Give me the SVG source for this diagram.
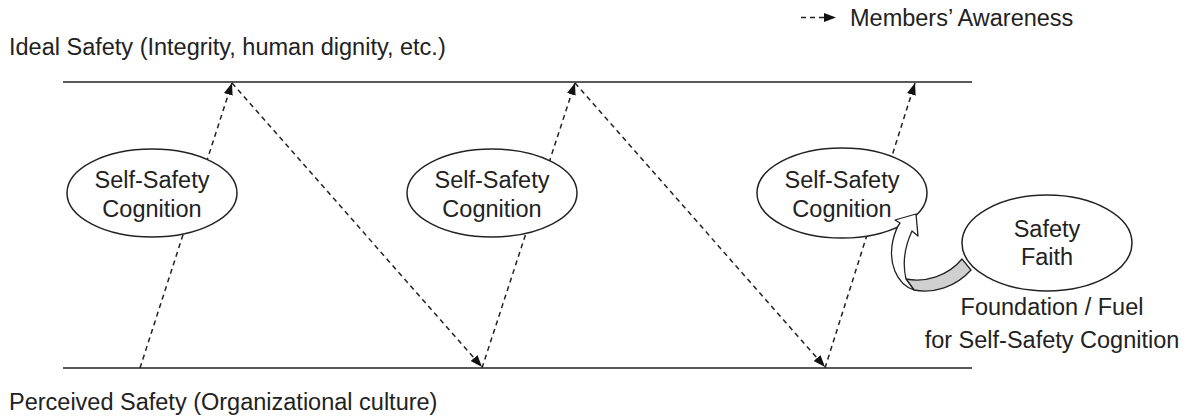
<svg xmlns="http://www.w3.org/2000/svg" width="1188" height="417" viewBox="0 0 1188 417">
  <style>
    text { font-family: "Liberation Sans", Arial, sans-serif; font-size: 23.5px; fill: #222; }
    .mid { text-anchor: middle; }
    .level { stroke: #222; stroke-width: 1.6; fill: none; }
    .aware { stroke: #222; stroke-width: 1.5; stroke-dasharray: 5 4; fill: none; marker-end: url(#head); }
    .node { fill: #fff; stroke: #222; stroke-width: 1.5; }
  </style>
  <defs>
    <marker id="head" markerUnits="userSpaceOnUse" markerWidth="13" markerHeight="10" refX="12" refY="4.5" orient="auto">
      <path d="M0,0 L12,4.5 L0,9 Z" fill="#111"/>
    </marker>
  </defs>
  <rect width="1188" height="417" fill="#fff"/>

  <!-- level lines and their labels -->
  <g id="levels">
    <line class="level" x1="63" y1="82" x2="972" y2="82"/>
    <line class="level" x1="63" y1="368" x2="972" y2="368"/>
    <text x="9" y="55">Ideal Safety (Integrity, human dignity, etc.)</text>
    <text x="9" y="410">Perceived Safety (Organizational culture)</text>
  </g>

  <!-- legend -->
  <g id="legend">
    <line class="aware" x1="801" y1="17.5" x2="836" y2="17.5"/>
    <text x="850" y="26">Members’ Awareness</text>
  </g>

  <!-- awareness zig-zag -->
  <g id="connectors">
    <line class="aware" x1="140" y1="368" x2="232" y2="83"/>
    <line class="aware" x1="232" y1="83" x2="482" y2="367"/>
    <line class="aware" x1="482" y1="368" x2="575" y2="83"/>
    <line class="aware" x1="575" y1="83" x2="825" y2="367"/>
    <line class="aware" x1="825" y1="368" x2="915" y2="83"/>
  </g>

  <g id="cognition-1">
    <ellipse class="node" cx="152" cy="193" rx="85" ry="44"/>
    <text class="mid" x="152" y="188">Self-Safety</text>
    <text class="mid" x="152" y="217">Cognition</text>
  </g>

  <g id="cognition-2">
    <ellipse class="node" cx="492" cy="193" rx="85" ry="44"/>
    <text class="mid" x="492" y="188">Self-Safety</text>
    <text class="mid" x="492" y="217">Cognition</text>
  </g>

  <g id="cognition-3">
    <ellipse class="node" cx="842" cy="193" rx="85" ry="45"/>
    <text class="mid" x="842" y="188">Self-Safety</text>
    <text class="mid" x="842" y="217">Cognition</text>
  </g>

  <g id="safety-faith">
    <ellipse class="node" cx="1047" cy="243" rx="85" ry="48"/>
    <text class="mid" x="1047" y="237">Safety</text>
    <text class="mid" x="1047" y="265">Faith</text>
    <text class="mid" x="1052" y="315">Foundation / Fuel</text>
    <text class="mid" x="1052" y="348">for Self-Safety Cognition</text>
  </g>

  <!-- curved block arrow from Safety Faith into the third cognition -->
  <g id="fuel-arrow">
    <path d="M906 279 C925 283 948 276 962 259 L971 270 C956 287 933 294 914 290 Z" fill="#d0d0d0" stroke="#222" stroke-width="1.3"/>
    <path d="M914 290 C896 284 888 262 893 240 C895 232 897 227 900 223 L895 220 L916 214 L918 236 L912 231 C906 244 902 262 906 279 Z" fill="#fff" stroke="#222" stroke-width="1.3" stroke-linejoin="round"/>
  </g>
</svg>
